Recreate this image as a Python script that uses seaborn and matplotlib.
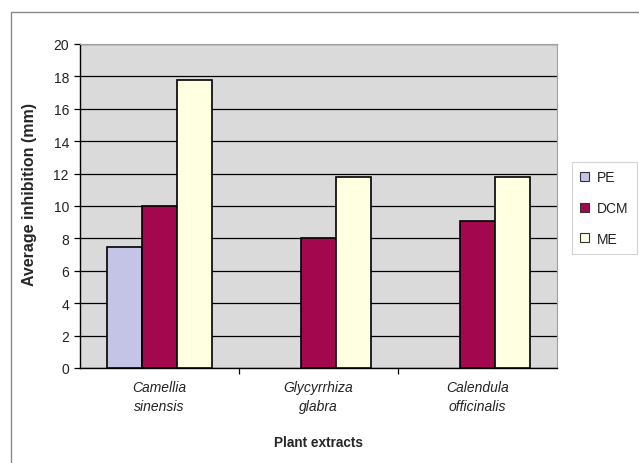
import matplotlib
matplotlib.use("Agg")
import matplotlib.pyplot as plt
import seaborn as sns
import pandas as pd
import numpy as np
from matplotlib.patches import Rectangle
from matplotlib.ticker import FixedLocator

categories = ["Camellia\nsinensis", "Glycyrrhiza\nglabra", "Calendula\nofficinalis"]
series = ["PE", "DCM", "ME"]
pe = [7.5, np.nan, np.nan]
dcm = [10.0, 8.0, 9.1]
me = [17.8, 11.8, 11.8]
colors = ["#C4C4E6", "#A3084F", "#FFFFE2"]

rows = []
for s, vals in zip(series, [pe, dcm, me]):
    for c, v in zip(categories, vals):
        rows.append({"cat": c, "series": s, "val": v})
df = pd.DataFrame(rows)

sns.set_theme(style="white")
plt.rcParams['font.family'] = ['Liberation Sans', 'DejaVu Sans']

fig = plt.figure(figsize=(6.39, 4.64), dpi=100)
W, H = 639, 464
ax = fig.add_axes([80 / W, 1 - 369 / H, (557 - 80) / W, (369 - 45) / H])

sns.barplot(data=df, x="cat", y="val", hue="series", hue_order=series,
            order=categories, palette=colors, width=0.66, saturation=1,
            edgecolor="black", linewidth=1.2, ax=ax, zorder=3, errorbar=None)

ax.set_facecolor("#DADADA")
ax.set_ylim(0, 20)
ax.set_xlim(-0.5, 2.5)
ax.set_yticks(np.arange(0, 21, 2))
ax.yaxis.grid(True, color="black", linewidth=0.9, zorder=0)
ax.set_axisbelow(True)
ax.tick_params(axis="y", length=4, width=0.9, color="black", left=True,
               labelsize=10, pad=4, labelcolor="#222222")
ax.tick_params(axis="x", length=0, labelsize=10, pad=9, labelcolor="#222222")
for lab in ax.get_xticklabels():
    lab.set_fontstyle("italic")
    lab.set_linespacing(1.45)
ax.xaxis.set_minor_locator(FixedLocator([0.5, 1.5]))
ax.tick_params(axis="x", which="minor", length=4, width=0.9, color="black", bottom=True)

for side in ["left", "bottom"]:
    ax.spines[side].set_color("black")
    ax.spines[side].set_linewidth(1.0)
for side in ["top", "right"]:
    ax.spines[side].set_color("#A0A0A0")
    ax.spines[side].set_linewidth(0.8)

ax.set_xlabel("Plant extracts", fontsize=9.8, fontweight="bold", va="center")
ax.xaxis.set_label_coords(0.5, (369 - 443) / 324)
ax.set_ylabel("Average inhibition (mm)", fontsize=11.5, fontweight="bold", va="center")
ax.yaxis.set_label_coords((30 - 80) / 477, (369 - 195) / 324)

leg = ax.legend(loc="upper left", bbox_to_anchor=(572 / W, 1 - 163 / H),
                bbox_transform=fig.transFigure, frameon=True, fancybox=False,
                fontsize=10, handlelength=0.6, handleheight=0.6,
                handletextpad=0.6, labelspacing=1.2, borderpad=0.6,
                borderaxespad=0)
leg.get_frame().set_edgecolor("#C8C8C8")
leg.get_frame().set_linewidth(0.8)
for h in leg.legend_handles:
    h.set_edgecolor("#333333")
    h.set_linewidth(0.8)
for t in leg.get_texts():
    t.set_color("#222222")

fig.patches.append(Rectangle((11 / W, -0.1), 1.2, 1 - 13 / H + 0.1,
                             transform=fig.transFigure, fill=False,
                             edgecolor="#8A8A8A", linewidth=1.0))

fig.savefig("out.png", dpi=100)
